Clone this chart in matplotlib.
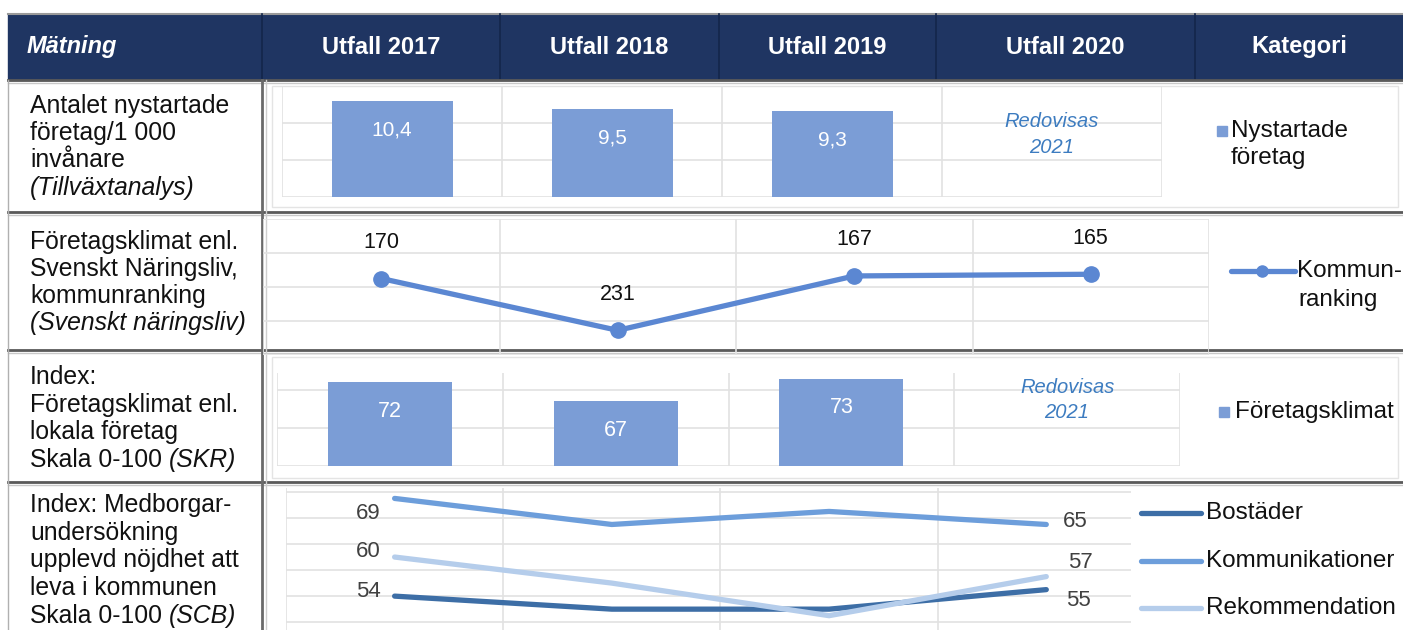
import matplotlib

matplotlib.use("Agg")
import matplotlib.pyplot as plt
from matplotlib.patches import Rectangle

plt.rcParams["font.family"] = ["Liberation Sans", "DejaVu Sans"]

W, H = 1403, 630

# --- data ---
header_cols = ["Mätning", "Utfall 2017", "Utfall 2018", "Utfall 2019", "Utfall 2020", "Kategori"]
years = ["2017", "2018", "2019", "2020"]

nystartade = [10.4, 9.5, 9.3]
nystartade_lbl = ["10,4", "9,5", "9,3"]
ranking = [170, 231, 167, 165]
klimat = [72, 67, 73]
bostader = [54, 52, 52, 55]
kommunikationer = [69, 65, 67, 65]
rekommendation = [60, 56, 51, 57]
pending_text = "Redovisas\n2021"

row_texts = [
    [[("Antalet nystartade", "normal")], [("företag/1 000", "normal")],
     [("invånare", "normal")], [("(Tillväxtanalys)", "italic")]],
    [[("Företagsklimat enl.", "normal")], [("Svenskt Näringsliv,", "normal")],
     [("kommunranking", "normal")], [("(Svenskt näringsliv)", "italic")]],
    [[("Index:", "normal")], [("Företagsklimat enl.", "normal")],
     [("lokala företag", "normal")], [("Skala 0-100", "normal"), ("(SKR)", "italic")]],
    [[("Index: Medborgar-", "normal")], [("undersökning", "normal")],
     [("upplevd nöjdhet att", "normal")], [("leva i kommunen", "normal")],
     [("Skala 0-100", "normal"), ("(SCB)", "italic")]],
]
row_text_y = [[106, 133, 160, 188], [242, 269, 296, 323],
              [377, 405, 432, 460], [505, 533, 560, 588, 616]]

# --- style ---
NAVY = "#1f3562"
BAR = "#7b9dd6"
LINE = "#5b87d2"
C_BOST = "#3d6ea6"
C_KOMM = "#6d9edb"
C_REK = "#b5cdeb"
PEND = "#3d7cc0"
GRID = "#e2e2e2"
FS = 17.8
FS_HEAD = 17
FS_LEG = 17.5

fig = plt.figure(figsize=(W / 100, H / 100), dpi=100)
bg = fig.add_axes([0, 0, 1, 1])
bg.set_xlim(0, W)
bg.set_ylim(H, 0)
bg.axis("off")


def px_axes(x0, y0, x1, y1):
    ax = fig.add_axes([x0 / W, 1 - y1 / H, (x1 - x0) / W, (y1 - y0) / H])
    ax.patch.set_alpha(0)
    for s in ax.spines.values():
        s.set_visible(False)
    ax.tick_params(which="both", length=0, labelbottom=False, labelleft=False)
    ax.set_axisbelow(True)
    return ax


def cat_grid(ax, xmax=3.5):
    ax.set_xticks([-0.5, 0.5, 1.5, 2.5, 3.5], minor=True)
    ax.set_xticks([])
    ax.set_xlim(-0.5, xmax)
    ax.grid(which="minor", axis="x", color=GRID, lw=1.2)
    ax.grid(which="major", axis="y", color=GRID, lw=1.2)


# --- table frame ---
bg.add_patch(Rectangle((8, 14), W - 8, 66, color=NAVY, zorder=1))
bg.plot([8, W], [14, 14], color="#9a9a9a", lw=1.5, zorder=2)
col_x = [8, 262, 500, 719, 936, 1195, W]
for x in col_x[1:-1]:
    bg.plot([x, x], [14, 80], color="#14264a", lw=1.2, zorder=2)
for i, name in enumerate(header_cols):
    if i == 0:
        bg.text(27, 47, name, color="white", fontsize=FS_HEAD, fontweight="bold",
                style="italic", va="center", ha="left", zorder=3)
    else:
        bg.text((col_x[i] + col_x[i + 1]) / 2, 47, name, color="white", fontsize=FS_HEAD,
                fontweight="bold", va="center", ha="center", zorder=3)

for y in [80, 212, 350, 482]:
    bg.plot([8, W], [y, y], color="#5a5a5a", lw=2.0, zorder=2)
    bg.plot([8, W], [y + 3, y + 3], color="#c8c8c8", lw=1.0, zorder=2)
bg.plot([262, 262], [80, H], color="#6a6a6a", lw=2.0, zorder=2)
bg.plot([266, 266], [80, H], color="#cfcfcf", lw=1.0, zorder=2)
bg.plot([8, 8], [80, H], color="#b0b0b0", lw=1.0, zorder=2)

# light chart-area frames
for (x0, y0, x1, y1) in [(272, 86, 1398, 207), (272, 357, 1398, 478)]:
    bg.add_patch(Rectangle((x0, y0), x1 - x0, y1 - y0, fill=False,
                           ec="#e4e4e4", lw=1.0, zorder=1))

# --- left column texts ---
renderer = fig.canvas.get_renderer()
space_px = 0.278 * FS * 100 / 72
for lines, ys in zip(row_texts, row_text_y):
    for parts, y in zip(lines, ys):
        x = 30
        for txt, st in parts:
            t = bg.text(x, y, txt, fontsize=FS, style=st, color="#111111",
                        va="center", ha="left", zorder=3)
            x += t.get_window_extent(renderer=renderer).width + space_px

# --- row 1: nystartade företag ---
ax1 = px_axes(282, 86, 1162, 197)
cat_grid(ax1)
ax1.set_ylim(0, 12)
ax1.set_yticks([0, 4, 8, 12])
ax1.bar(range(len(nystartade)), nystartade, width=0.55, color=BAR, zorder=2)
for i, (v, lbl) in enumerate(zip(nystartade, nystartade_lbl)):
    ax1.annotate(lbl, (i, v), xytext=(0, -21), textcoords="offset points",
                 ha="center", va="center", color="white", fontsize=15)
ax1.text(3, 0.56, pending_text, transform=ax1.get_xaxis_transform(), ha="center",
         va="center", color=PEND, style="italic", fontsize=14.5, linespacing=1.45)

bg.add_patch(Rectangle((1217, 126), 10, 10, color=BAR, zorder=3))
bg.text(1231, 131, "Nystartade", fontsize=FS_LEG, va="center", ha="left", color="#111111")
bg.text(1231, 158, "företag", fontsize=FS_LEG, va="center", ha="left", color="#111111")

# --- row 2: kommunranking ---
ax2 = px_axes(263, 219, 1209, 355)
cat_grid(ax2)
ax2.set_ylim(260, 100)
ax2.set_yticks([100, 140, 180, 220, 260])
ax2.plot(range(len(ranking)), ranking, color=LINE, lw=3.8, marker="o",
         markersize=11, solid_capstyle="round", zorder=3)
for i, v in enumerate(ranking):
    ax2.annotate(str(v), (i, v), xytext=(0, 26), textcoords="offset points",
                 ha="center", va="center", color="#111111", fontsize=15.5)

bg.plot([1231, 1295], [271, 271], color=LINE, lw=3.8, solid_capstyle="round", zorder=3)
bg.plot([1262], [271], marker="o", color=LINE, markersize=8, zorder=4)
bg.text(1297, 271, "Kommun-", fontsize=FS_LEG, va="center", ha="left", color="#111111")
bg.text(1298, 300, "ranking", fontsize=FS_LEG, va="center", ha="left", color="#111111")

# --- row 3: företagsklimat ---
ax3 = px_axes(277, 373, 1180, 466)
cat_grid(ax3)
ax3.set_ylim(50, 74.5)
ax3.set_yticks([50, 60, 70])
ax3.bar(range(len(klimat)), klimat, width=0.55, color=BAR, zorder=2)
for i, v in enumerate(klimat):
    ax3.annotate(str(v), (i, v), xytext=(0, -21), textcoords="offset points",
                 ha="center", va="center", color="white", fontsize=15.5)
ax3.text(3, 0.71, pending_text, transform=ax3.get_xaxis_transform(), ha="center",
         va="center", color=PEND, style="italic", fontsize=14.5, linespacing=1.4)

bg.add_patch(Rectangle((1219, 407), 10, 10, color=BAR, zorder=3))
bg.text(1235, 412, "Företagsklimat", fontsize=FS_LEG, va="center", ha="left", color="#111111")

# --- row 4: medborgarundersökning ---
ax4 = px_axes(286, 488, 1131, 630)
cat_grid(ax4, xmax=3.39)
ax4.set_ylim(48.8, 70.6)
ax4.set_yticks([50, 54, 58, 62, 66, 70])
series = [
    ("Bostäder", bostader, C_BOST, (-10, 3), (14, -8)),
    ("Kommunikationer", kommunikationer, C_KOMM, (-10, -11), (12, 2)),
    ("Rekommendation", rekommendation, C_REK, (-10, 4), (16, 10)),
]
for name, vals, col, off_first, off_last in series:
    ax4.plot(range(len(vals)), vals, color=col, lw=3.8, solid_capstyle="round",
             solid_joinstyle="miter", zorder=3)
    ax4.annotate(str(vals[0]), (0, vals[0]), xytext=off_first, textcoords="offset points",
                 ha="right", va="center", color="#404040", fontsize=16)
    ax4.annotate(str(vals[-1]), (len(vals) - 1, vals[-1]), xytext=off_last,
                 textcoords="offset points", ha="left", va="center", color="#404040",
                 fontsize=16)

for (name, vals, col, _, _), y in zip(series, [513, 561, 608]):
    bg.plot([1141, 1201], [y, y], color=col, lw=3.8, solid_capstyle="round", zorder=3)
    bg.text(1206, y, name, fontsize=FS_LEG, va="center", ha="left", color="#111111")

fig.savefig("out.png", dpi=100)
